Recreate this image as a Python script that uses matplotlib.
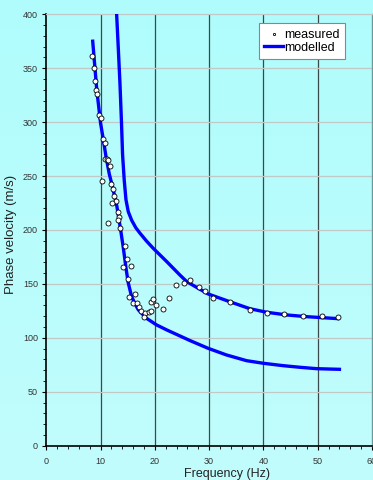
import numpy as np
import matplotlib
matplotlib.use('Agg')
from matplotlib import pyplot as plt

plt.rcParams['font.family'] = ['Liberation Sans', 'DejaVu Sans']

# measured dispersion points (Hz, m/s)
meas_f = [8.4, 8.85, 8.95, 9.2, 9.3, 9.8, 10.0, 10.5, 10.85, 10.9, 11.1, 11.4, 11.65,
          10.25, 12.0, 12.2, 12.45, 12.75, 12.15, 13.3, 13.45, 13.15, 11.4, 13.5,
          14.5, 14.85, 14.1, 15.6, 15.05, 15.3, 16.25, 16.0, 16.7, 17.1, 17.5,
          18.2, 18.0, 18.85, 19.3, 19.3, 19.7, 20.3, 21.55, 22.65, 23.85, 25.4,
          26.5, 28.1, 29.3, 30.8, 33.9, 37.5, 40.6, 43.7, 47.2, 50.7, 53.7]
meas_v = [361, 350.5, 338, 330, 326, 307, 303.5, 284.5, 280.5, 265.5, 266, 264.5, 259,
          245.5, 242.5, 237.7, 231.5, 226.7, 224.8, 216.5, 212, 209.3, 206.2, 201.8,
          185, 172.8, 166, 167, 154.3, 137.8, 140.2, 132.6, 132, 128.3, 124.9,
          122.8, 119.6, 124.4, 125.2, 133, 135.6, 130.3, 126.5, 136.7, 149.2, 150.4,
          153.6, 146.9, 143.2, 136.7, 133, 126.1, 122.8, 121.8, 120.3, 120.3, 119]

# modelled fundamental mode
fund_f = [8.55, 9.3, 10.0, 10.5, 11.0, 11.6, 12.2, 13.0, 13.7, 14.2, 14.7, 15.1,
          15.7, 16.4, 16.95, 18.5, 20.3, 22.2, 26.5, 29.8, 33.2, 36.9, 40.0, 43.6,
          46.7, 49.8, 54.0]
fund_v = [375, 330, 299, 284, 268, 252, 240, 222, 200, 183, 164, 151,
          138.5, 131, 126, 118, 112, 107.3, 97.4, 90.3, 84.1, 78.8, 76.4, 74.2,
          72.7, 71.4, 70.8]

# modelled higher mode
high_f = [12.96, 13.25, 13.57, 13.85, 14.05, 14.36, 14.68, 15.1, 15.73, 16.5, 17.26,
          18.5, 19.7, 22.2, 24.6, 25.9, 29.8, 33.8, 37.5, 40.6, 44.3, 48.0, 53.7]
high_v = [400, 370, 336, 300, 270, 246, 228, 217, 209, 202, 197,
          189.5, 183, 170.6, 158.3, 152, 140.7, 133.5, 127, 123.7, 121.2, 119.6, 117.8]

fig = plt.figure(figsize=(3.73, 4.8), dpi=100)

# background gradient
bg = fig.add_axes([0, 0, 1, 1], zorder=-10)
grad = np.linspace(0, 1, 256).reshape(-1, 1)
top = np.array([0.69, 0.99, 0.99])
bot = np.array([0.76, 0.99, 0.99])
img = top + (bot - top) * grad[:, :, None]
bg.imshow(img, aspect='auto', extent=[0, 1, 0, 1])
bg.axis('off')

ax = fig.add_axes([0.1241, 0.0715, 0.8732, 0.8988])
ax.set_facecolor('none')

ax.set_xlim(0, 60)
ax.set_ylim(0, 400)
ax.set_xticks(range(0, 61, 10))
ax.set_xticks(range(0, 61, 2), minor=True)
ax.set_yticks(range(0, 401, 50))
ax.set_yticks(range(0, 401, 10), minor=True)

for x in range(10, 60, 10):
    ax.axvline(x, color='#3a4a4a', lw=0.9, zorder=1)
for y in range(50, 400, 50):
    ax.axhline(y, color='#c0c8c8', lw=0.9, zorder=1)

ax.spines['left'].set_color('black')
ax.spines['left'].set_linewidth(1.2)
ax.spines['bottom'].set_color('black')
ax.spines['bottom'].set_linewidth(1.2)
ax.spines['top'].set_color('#c0c8c8')
ax.spines['top'].set_linewidth(0.9)
ax.spines['right'].set_color('#6a9a9a')
ax.spines['right'].set_linewidth(1.0)

ax.tick_params(which='major', length=3, width=0.8, labelsize=6.5,
               labelcolor='#333333', direction='out', pad=3)
ax.tick_params(which='minor', length=2, width=0.6, direction='out')
ax.tick_params(axis='x', which='major', pad=5)

ax.plot(fund_f, fund_v, color='#0000ff', lw=2.4, zorder=3, label='modelled',
        solid_joinstyle='round')
ax.plot(high_f, high_v, color='#0000ff', lw=2.4, zorder=3, solid_joinstyle='round')
ax.scatter(meas_f, meas_v, s=13, facecolor='white', edgecolor='black',
           linewidth=0.6, zorder=4, label='measured')

ax.set_xlabel('Frequency (Hz)', fontsize=9, color='#222222')
ax.xaxis.set_label_coords(0.554, -0.052)
ax.set_ylabel('Phase velocity (m/s)', fontsize=9.5, color='#222222')
ax.yaxis.set_label_coords(-0.09, 0.49)

h, l = ax.get_legend_handles_labels()
leg = ax.legend(h[::-1], l[::-1], loc='upper right', bbox_to_anchor=(0.917, 0.98),
                fontsize=9, fancybox=False, framealpha=1, edgecolor='#888888',
                handlelength=1.45, handletextpad=0.1, borderpad=0.45,
                labelspacing=0.1, borderaxespad=0, markerscale=0.45)
leg.get_frame().set_linewidth(0.8)

fig.savefig('out.png', dpi=100)
